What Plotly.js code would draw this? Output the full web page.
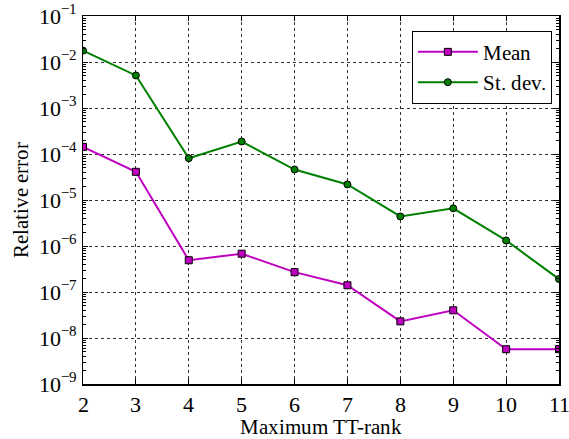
<!DOCTYPE html>
<html><head><meta charset="utf-8">
<script src="https://cdn.plot.ly/plotly-3.0.1.min.js"></script>
<style>
@font-face{font-family:"RefSerif";src:local("Liberation Serif"),local("LiberationSerif"),local("LiberationSerif-Regular"),local("Times New Roman"),local("DejaVu Serif"),local("DejaVuSerif");}
body{margin:0;padding:0;background:#fff}
#plot{width:569px;height:439px}
#plot svg text{font-family:"RefSerif","Liberation Serif","Times New Roman",serif !important}
</style>
</head><body><div id="plot"></div>
<script>
const ranks = [2, 3, 4, 5, 6, 7, 8, 9, 10, 11];
const meanErr = [1.43e-4, 4.1e-5, 4.9e-7, 6.8e-7, 2.7e-7, 1.4e-7, 2.3e-8, 4.0e-8, 5.7e-9, 5.7e-9];
const stdErr = [1.77e-2, 5.1e-3, 8.1e-5, 1.87e-4, 4.6e-5, 2.18e-5, 4.4e-6, 6.6e-6, 1.32e-6, 1.91e-7];
const yTickVals = [1e-9, 1e-8, 1e-7, 1e-6, 1e-5, 1e-4, 1e-3, 1e-2, 1e-1];
const yTickText = ['10<sup>−9</sup>','10<sup>−8</sup>','10<sup>−7</sup>','10<sup>−6</sup>','10<sup>−5</sup>','10<sup>−4</sup>','10<sup>−3</sup>','10<sup>−2</sup>','10<sup>−1</sup>'];
const seriesNames = ['Mean', 'St. dev.'];

const font = 'RefSerif, "Liberation Serif", "Times New Roman", serif';
const traces = [
  {x: ranks, y: meanErr, name: seriesNames[0], mode: 'lines+markers',
   line: {color: '#c000c0', width: 2},
   marker: {symbol: 'square', size: 7, color: '#c000c0', line: {color: '#000', width: 1}}},
  {x: ranks, y: stdErr, name: seriesNames[1], mode: 'lines+markers',
   line: {color: '#008000', width: 2},
   marker: {symbol: 'circle', size: 7, color: '#008000', line: {color: '#000', width: 1}}}
];
const layout = {
  width: 569, height: 439,
  margin: {l: 83, r: 10, t: 16, b: 55},
  paper_bgcolor: '#fff', plot_bgcolor: '#fff',
  font: {family: font, size: 20, color: '#000'},
  showlegend: true,
  legend: {x: 0.985, xanchor: 'right', y: 0.96, yanchor: 'top',
           bordercolor: '#000', borderwidth: 1, bgcolor: '#fff',
           font: {family: font, size: 21}, tracegroupgap: 0, itemwidth: 60},
  xaxis: {range: [2, 11], dtick: 1, tick0: 2,
          showgrid: true, gridcolor: '#333', griddash: 'dot', gridwidth: 1,
          ticks: 'inside', ticklen: 5, tickcolor: '#000', mirror: 'ticks',
          showline: true, linecolor: '#000', linewidth: 1.5, zeroline: false,
          ticklabeloverflow: 'allow',
          tickfont: {family: font, size: 22},
          title: {text: 'Maximum TT-rank', font: {family: font, size: 21}, standoff: 2}},
  yaxis: {type: 'log', range: [-9, -1], tickvals: yTickVals, ticktext: yTickText,
          showgrid: true, gridcolor: '#333', griddash: 'dot', gridwidth: 1,
          ticks: 'inside', ticklen: 5, tickcolor: '#000', mirror: 'ticks',
          showline: true, linecolor: '#000', linewidth: 1.5, zeroline: false,
          minor: {ticks: 'inside', ticklen: 3, tickcolor: '#000', showgrid: false, dtick: 'D1'},
          tickfont: {family: font, size: 22},
          title: {text: 'Relative error', font: {family: font, size: 21}, standoff: 4}}
};
Plotly.newPlot('plot', traces, layout, {displayModeBar: false, staticPlot: true});
</script></body></html>
